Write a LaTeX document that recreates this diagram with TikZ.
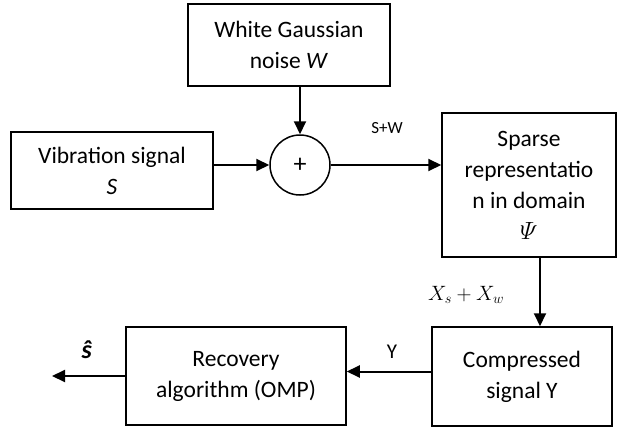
\documentclass[tikz,border=0pt]{standalone}
\usepackage{amsmath,amssymb,bm}
\usepackage{fontspec}
\setmainfont{Carlito}
\usetikzlibrary{arrows.meta,positioning,calc}
\begin{document}
\begin{tikzpicture}[x=1pt,y=-1pt,
  box/.style={draw,line width=1.5pt,inner sep=0pt,align=center,font=\fontsize{23.5}{31}\selectfont},
  conn/.style={line width=2pt,-{Triangle[length=13pt,width=12pt]}},
  lbl/.style={inner sep=0pt}]
\useasboundingbox (0,0) rectangle (618,428);
\node[box,minimum width=202pt,minimum height=77pt] (vib) at (112,170.5) {Vibration signal\\\textit{S}};
\node[box,minimum width=202pt,minimum height=82pt] (wgn) at (289,45) {White Gaussian\\noise \textit{W}};
\node[draw,circle,line width=1.5pt,minimum size=60pt,inner sep=0pt,font=\fontsize{26}{31}\selectfont] (plus) at (300,165) {+};
\node[box,minimum width=174pt,minimum height=144pt] (sparse) at (529,185) {Sparse\\representatio\\n in domain\\{\fontsize{26}{31}\selectfont$\varPsi$}};
\node[box,minimum width=180pt,minimum height=99pt] (comp) at (522,376.5) {Compressed\\signal Y};
\node[box,minimum width=220pt,minimum height=98pt] (rec) at (236,376) {Recovery\\algorithm (OMP)};
\coordinate (out) at (52,376);
\coordinate (sb) at ([xshift=11pt]sparse.south);
\coordinate (cw) at ([yshift=5pt]comp.west);
\draw[conn] (vib.east |- plus.west) -- (plus.west);
\draw[conn] (wgn.south -| plus.north) -- (plus.north);
\draw[conn] (plus.east) -- (plus.east -| sparse.west);
\draw[conn] (sb) -- (sb |- comp.north);
\draw[conn] (cw) -- (cw -| rec.east);
\draw[conn] (rec.west |- out) -- (out);
\node[lbl,font=\fontsize{17}{19}\selectfont] (sw) at (387,128) {S+W};
\node[lbl,font=\fontsize{22}{24}\selectfont] (xx) at (466,295) {$X_s + X_w$};
\node[lbl,font=\fontsize{21}{24}\selectfont] (ylab) at (392,352) {Y};
\node[lbl,font=\fontsize{26}{28}\selectfont] (shat) at (87,350) {\textbf{\textit{ŝ}}};
\end{tikzpicture}
\end{document}
